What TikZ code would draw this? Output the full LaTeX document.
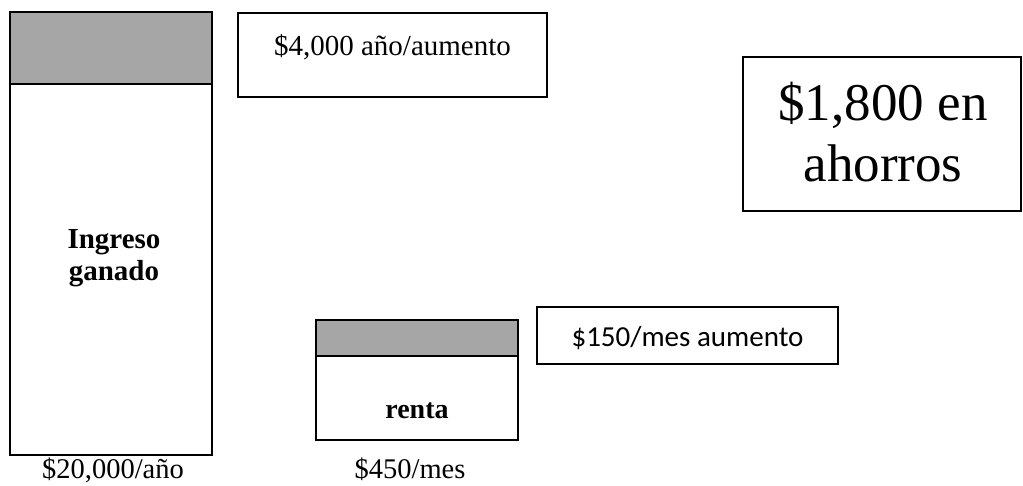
\documentclass[tikz,border=0pt]{standalone}
\usepackage{fontspec}
\setmainfont{Liberation Serif}
\newfontfamily\calib{Carlito}
\definecolor{barfill}{HTML}{A6A6A6}
\tikzset{
  boxline/.style={draw=black, line width=1.6pt},
  lbl/.style={anchor=base, inner sep=0pt, font=\fontsize{28.5}{32}\selectfont},
}
\begin{document}
\begin{tikzpicture}[x=1pt,y=-1pt]
\useasboundingbox (0,0) rectangle (1023,485);
% tall income bar
\fill[barfill] (10,12) rectangle (212,84);
\draw[boxline] (10,12) rectangle (212,455);
\draw[boxline] (10,84) -- (212,84);
\node[lbl, font=\bfseries\fontsize{29}{32}\selectfont] (ing1) at (114,248) {Ingreso};
\node[lbl, font=\bfseries\fontsize{29}{32}\selectfont] (ing2) at (114,280) {ganado};
\node[lbl] (inc) at (113,478) {\$20,000/año};
% raise box
\draw[boxline] (238,13) rectangle (547,97);
\node[lbl, font=\fontsize{29}{32}\selectfont] (raise) at (392.5,55) {\$4,000 año/aumento};
% savings box
\draw[boxline] (743,57) rectangle (1021,211);
\node[lbl, font=\fontsize{53}{60}\selectfont] (sav1) at (883,120) {\$1,800 en};
\node[lbl, font=\fontsize{53}{60}\selectfont] (sav2) at (883,181) {ahorros};
% rent bar
\fill[barfill] (316,320) rectangle (518,356);
\draw[boxline] (316,320) rectangle (518,440);
\draw[boxline] (316,356) -- (518,356);
\node[lbl, font=\bfseries\fontsize{28}{32}\selectfont] (renta) at (417,418) {renta};
\node[lbl] (rent) at (410,478) {\$450/mes};
% rent raise box
\draw[boxline] (537,307) rectangle (838,364);
\node[lbl, font=\calib\fontsize{29}{32}\selectfont] (rr) at (687.5,346) {\$150/mes aumento};
\end{tikzpicture}
\end{document}
